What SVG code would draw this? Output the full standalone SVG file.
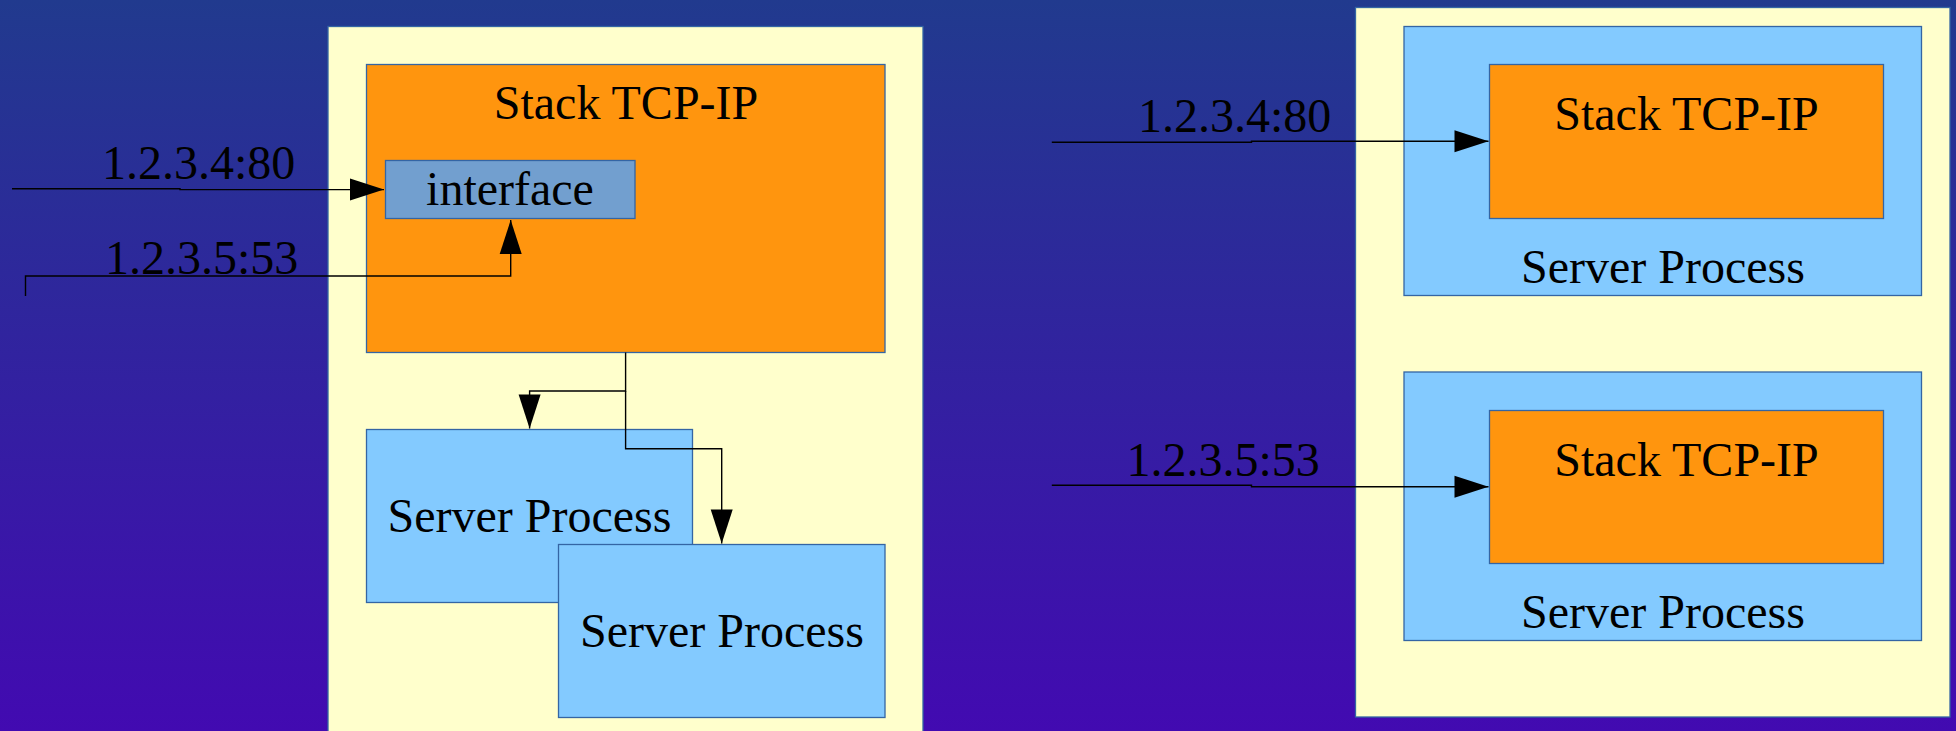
<svg xmlns="http://www.w3.org/2000/svg" width="1956" height="731" viewBox="0 0 1956 731">
<defs>
<linearGradient id="bg" x1="0" y1="0" x2="0" y2="1">
<stop offset="0" stop-color="#213a8e"/>
<stop offset="1" stop-color="#420ab1"/>
</linearGradient>
<marker id="arr" markerUnits="userSpaceOnUse" markerWidth="34" markerHeight="22" refX="34" refY="11" orient="auto" overflow="visible">
<path d="M0,0 L34,11 L0,22 Z" fill="#000"/>
</marker>
<style>
.host{fill:#ffffcc;stroke:#3465a4;stroke-width:1.3}
.stack{fill:#ff950e;stroke:#3465a4;stroke-width:1.3}
.proc{fill:#83caff;stroke:#3465a4;stroke-width:1.3}
.iface{fill:#729fcf;stroke:#3465a4;stroke-width:1.3}
text{font-family:"Liberation Serif","Times New Roman",serif;font-size:48px;fill:#000}
.c{text-anchor:middle}
.conn{fill:none;stroke:#000;stroke-width:1.4}
</style>
</defs>
<rect x="0" y="0" width="1956" height="731" fill="url(#bg)"/>

<g id="host-left">
<rect class="host" x="328" y="26.5" width="595" height="720"/>
</g>
<g id="stack-left">
<rect class="stack" x="366.5" y="64.5" width="518.5" height="288"/>
<text class="c" x="626" y="119">Stack TCP-IP</text>
</g>
<g id="interface">
<rect class="iface" x="385.5" y="160.5" width="249.5" height="58"/>
<text class="c" x="510" y="205">interface</text>
</g>
<g id="server-left-1">
<rect class="proc" x="366.5" y="429.5" width="326" height="173"/>
<text class="c" x="529.5" y="531.5">Server Process</text>
</g>
<g id="server-left-2">
<rect class="proc" x="558.5" y="544.5" width="326.5" height="173"/>
<text class="c" x="722" y="646.5">Server Process</text>
</g>

<g id="host-right">
<rect class="host" x="1355.5" y="7.5" width="594.5" height="709.5"/>
</g>
<g id="server-right-1">
<rect class="proc" x="1404" y="26.5" width="517.5" height="269"/>
<text class="c" x="1663" y="282.5">Server Process</text>
</g>
<g id="stack-right-1">
<rect class="stack" x="1489.5" y="64.5" width="394" height="154"/>
<text class="c" x="1686.5" y="130">Stack TCP-IP</text>
</g>
<g id="server-right-2">
<rect class="proc" x="1404" y="372" width="517.5" height="268.5"/>
<text class="c" x="1663" y="627.5">Server Process</text>
</g>
<g id="stack-right-2">
<rect class="stack" x="1489.5" y="410.5" width="394" height="153"/>
<text class="c" x="1686.5" y="476">Stack TCP-IP</text>
</g>

<g id="connectors">
<polyline class="conn" points="12,188.7 180,188.7 180,189.6 384,189.6" marker-end="url(#arr)"/>
<text x="102" y="179">1.2.3.4:80</text>
<polyline class="conn" points="25.5,296 25.5,276 510.7,276 510.7,220" marker-end="url(#arr)"/>
<text x="105" y="274">1.2.3.5:53</text>
<polyline class="conn" points="625.6,352.5 625.6,391 529.6,391 529.6,428.5" marker-end="url(#arr)"/>
<polyline class="conn" points="625.6,391 625.6,448.7 721.7,448.7 721.7,543.5" marker-end="url(#arr)"/>
<polyline class="conn" points="1051.8,142.3 1251.5,142.3 1251.5,141.3 1488.5,141.3" marker-end="url(#arr)"/>
<text x="1138" y="131.7">1.2.3.4:80</text>
<polyline class="conn" points="1051.8,485.3 1251.5,485.3 1251.5,486.7 1488.5,486.7" marker-end="url(#arr)"/>
<text x="1126.5" y="476">1.2.3.5:53</text>
</g>
</svg>
